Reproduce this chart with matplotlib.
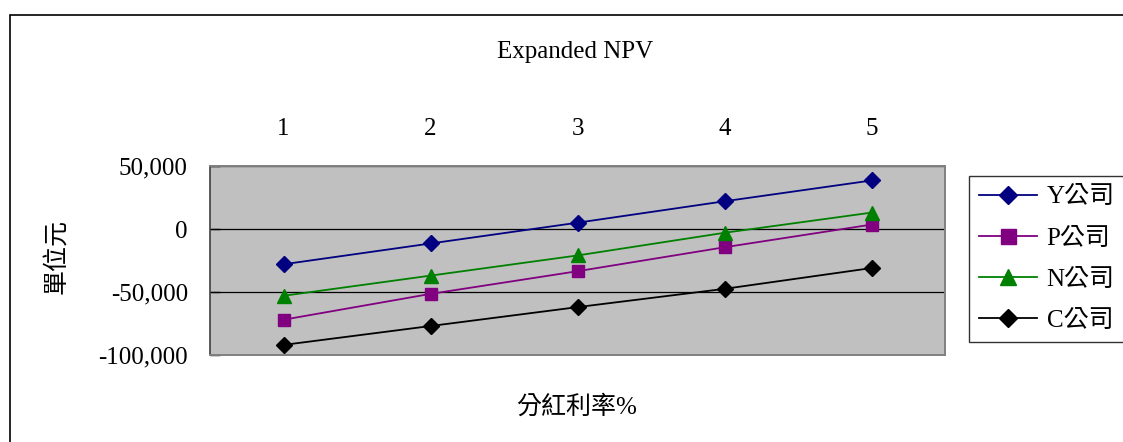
import matplotlib
matplotlib.use("Agg")
import matplotlib.pyplot as plt
from matplotlib.patches import Rectangle
from matplotlib.ticker import FuncFormatter

FONTS = ["Liberation Serif", "Noto Sans CJK TC"]
plt.rcParams["font.family"] = FONTS

rates = [1, 2, 3, 4, 5]
companies = ["Y公司", "P公司", "N公司", "C公司"]
npv_y = [-28000, -11500, 5000, 22000, 38500]
npv_p = [-72000, -51500, -33500, -14500, 3500]
npv_n = [-53000, -37000, -21000, -3000, 13000]
npv_c = [-92000, -77000, -62000, -47500, -31000]
y_ticks = [-100000, -50000, 0, 50000]

W, H = 1123, 442
fig = plt.figure(figsize=(W / 100, H / 100), dpi=100)
ax = fig.add_axes([210 / W, 1 - 355 / H, 735 / W, 189 / H])
ax.set_facecolor("#C0C0C0")

styles = [
    ("#000080", "D", 8),
    ("#800080", "s", 9),
    ("#008000", "^", 10),
    ("#000000", "D", 8),
]
for name, values, (color, marker, ms) in zip(
        companies, [npv_y, npv_p, npv_n, npv_c], styles):
    ax.plot(rates, values, color=color, marker=marker, markersize=ms,
            linewidth=1.3, label=name, zorder=3)

ax.set_xlim(0.5, 5.5)
ax.set_ylim(-100000, 50000)
ax.set_yticks(y_ticks)
ax.yaxis.set_major_formatter(FuncFormatter(lambda v, _: f"{v:,.0f}"))
ax.set_xticks(rates)
ax.xaxis.tick_top()
ax.tick_params(axis="x", length=0, pad=19, labelsize=18)
ax.tick_params(axis="y", direction="in", length=7, width=1, pad=16,
               labelsize=18)
ax.yaxis.grid(True, color="black", linewidth=0.9)
ax.set_axisbelow(True)

for side in ("top", "right", "bottom"):
    ax.spines[side].set_color("#808080")
    ax.spines[side].set_linewidth(1.4)
ax.spines["left"].set_color("#404040")
ax.spines["left"].set_linewidth(1.2)

fig.text(575 / W, 1 - 52 / H, "Expanded NPV", ha="center", va="center",
         fontsize=18)
fig.text(56 / W, 1 - 257 / H, "單位元", ha="center", va="center",
         rotation=90, fontsize=18)
fig.text(577 / W, 1 - 407 / H, "分紅利率%", ha="center", va="center",
         fontsize=18)

leg = fig.legend(loc="upper left", bbox_to_anchor=(969 / W, 1 - 176 / H),
                 borderaxespad=0, fancybox=False, fontsize=18,
                 handlelength=2.3, handletextpad=0.4, labelspacing=0.75,
                 borderpad=0.4, markerscale=1.2)
leg.get_frame().set_edgecolor("black")
leg.get_frame().set_linewidth(1.0)

# outer chart border, running off the right and bottom edges
fig.patches.append(Rectangle((10 / W, -0.2), 1.2, 1 - 15 / H + 0.2,
                             transform=fig.transFigure, fill=False,
                             edgecolor="black", linewidth=1.2))

fig.savefig("out.png", dpi=100)
